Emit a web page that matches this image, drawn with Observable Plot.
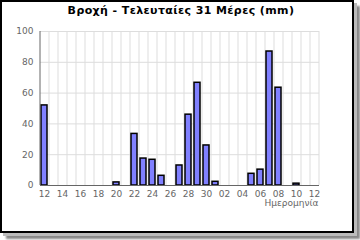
<!DOCTYPE html>
<html><head><meta charset="utf-8">
<script src="https://cdn.jsdelivr.net/npm/d3@7"></script>
<script src="https://cdn.jsdelivr.net/npm/@observablehq/plot@0.6"></script>
<style>
html,body{margin:0;padding:0;background:#fff;width:360px;height:240px;overflow:hidden;}
#frame{position:absolute;left:0;top:0;width:350px;height:229px;border:2px solid #000;background:#fff;box-shadow:3px 3px 0 #bbb,6px 6px 2px #888;}
#title{position:absolute;left:0;top:4px;width:362px;text-align:center;font:bold 11px "DejaVu Sans",sans-serif;letter-spacing:0.4px;color:#000;z-index:2;}
#chart{position:absolute;left:0;top:0;z-index:1;}
</style></head>
<body>
<div id="frame"></div>
<div id="title">Βροχή - Τελευταίες 31 Μέρες (mm)</div>
<div id="chart"></div>
<script>
const dates = ["09-12","09-13","09-14","09-15","09-16","09-17","09-18","09-19","09-20","09-21","09-22","09-23","09-24","09-25","09-26","09-27","09-28","09-29","09-30","10-01","10-02","10-03","10-04","10-05","10-06","10-07","10-08","10-09","10-10","10-11","10-12"];
const rain = [52,0,0,0,0,0,0,0,2,0,33.5,17.5,16.7,6.3,0,13,46,66.7,26,2.4,0,0,0,7.6,10.3,87,63.5,0,1.2,0,0];
const yTicks = [0,20,40,60,80,100];
const xTicks = dates.filter((d,i)=>i%2===0);
const xLabel = "Ημερομηνία";
const data = dates.map((d,i)=>({date:d, value:rain[i]}));

const chart = Plot.plot({
  width: 354, height: 233,
  marginLeft: 40, marginRight: 35, marginTop: 31, marginBottom: 48,
  style: {fontFamily: "DejaVu Sans, sans-serif", fontSize: "9px", color: "#666", background: "transparent", overflow: "visible"},
  x: {type: "band", domain: dates, paddingInner: 0.3, paddingOuter: 0.15, label: null},
  y: {domain: [0,100], label: null},
  marks: [
    Plot.ruleY(yTicks, {stroke: "#ddd", strokeWidth: 1}),
    Plot.ruleX(dates, {x: d=>d, dx: 4.5, stroke: "#ddd", strokeWidth: 1}),
    Plot.rectY(data.filter(d=>d.value>0), {x: "date", y: "value", fill: "#8080ff", stroke: "#000", strokeWidth: 1.5}),
    Plot.axisY({ticks: yTicks, tickSize: 0, tickPadding: 7, fill: "#666", label: null}),
    Plot.axisX({ticks: xTicks, tickFormat: d=>d.slice(3), tickSize: 0, tickPadding: 5, fill: "#666", label: null}),
    Plot.text([xLabel], {frameAnchor: "bottom-right", dy: 20, dx: -1, textAnchor: "end", fill: "#666"}),
    Plot.ruleY([0], {stroke: "#666", strokeWidth: 1}),
    Plot.ruleX([dates[0]], {dx: -4.5, stroke: "#666", strokeWidth: 1})
  ]
});
document.getElementById("chart").appendChild(chart);
</script>
</body></html>
